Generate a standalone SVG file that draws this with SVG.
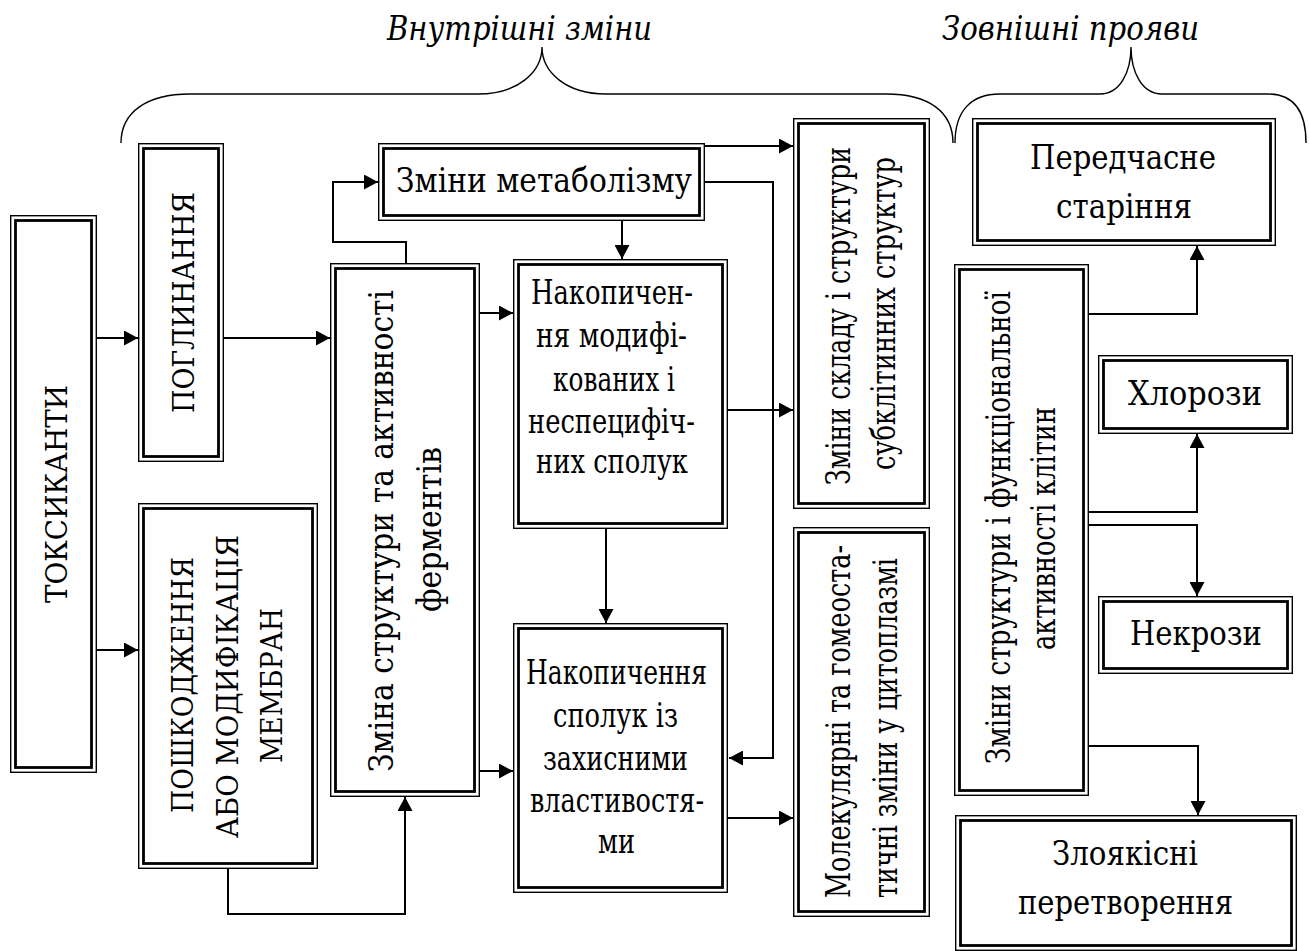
<svg xmlns="http://www.w3.org/2000/svg" width="1309" height="951" viewBox="0 0 1309 951">
  <defs>
    <marker id="arr" markerUnits="userSpaceOnUse" markerWidth="14" markerHeight="15" refX="14" refY="7.5" orient="auto">
      <path d="M0,0 L14,7.5 L0,15 Z" fill="#000"/>
    </marker>
    <style>
      text { font-family: "DejaVu Serif", "Liberation Serif", serif; fill: #000; }
      .o { fill: #fff; stroke: #000; stroke-width: 1.4; }
      .i { fill: none; stroke: #000; stroke-width: 2.8; }
      .t { font-size: 33.5px; text-anchor: middle; }
      .u { font-size: 30px; }
      .s { text-anchor: start; }
      .h { font-size: 34px; font-style: italic; text-anchor: middle; }
      .c { fill: none; stroke: #000; stroke-width: 2; marker-end: url(#arr); }
      .b { fill: none; stroke: #000; stroke-width: 1.4; }
    </style>
  </defs>
  <rect width="1309" height="951" fill="#fff"/>

  <!-- group headings with braces -->
  <g id="headings">
    <text class="h" x="519.5" y="40" textLength="265" lengthAdjust="spacingAndGlyphs">Внутрішні зміни</text>
    <text class="h" x="1070.5" y="40" textLength="257" lengthAdjust="spacingAndGlyphs">Зовнішні прояви</text>
    <path class="b" d="M121,143 C121,112 147,94 190,94 L478,94 C518,94 542,72 542,47 C542,72 566,94 606,94 L886,94 C929,94 953,112 953,143"/>
    <path class="b" d="M955,143 C955,112 970,94 1000,94 L1100,94 C1120,94 1131,72 1131,47 C1131,72 1142,94 1162,94 L1268,94 C1294,94 1306,112 1306,143"/>
  </g>

  <!-- connectors -->
  <g id="connectors">
    <path class="c" d="M97,338 H138"/>
    <path class="c" d="M97,650 H138"/>
    <path class="c" d="M224,338 H330"/>
    <path class="c" d="M228,869 V914 H405 V797"/>
    <path class="c" d="M406,263 V242 H333 V182 H378"/>
    <path class="c" d="M480,313 H513"/>
    <path class="c" d="M480,771 H513"/>
    <path class="c" d="M622,221 V259"/>
    <path class="c" d="M705,146 H793"/>
    <path class="c" d="M705,182 H773 V758 H729"/>
    <path class="c" d="M728,410 H793"/>
    <path class="c" d="M606,529 V623"/>
    <path class="c" d="M728,818 H793"/>
    <path class="c" d="M1089,314 H1197 V246"/>
    <path class="c" d="M1089,512 H1197 V434"/>
    <path class="c" d="M1089,525 H1197 V596"/>
    <path class="c" d="M1089,746 H1198 V815"/>
  </g>

  <g id="toxicants">
    <rect class="o" x="10.7" y="215.7" width="85.6" height="556.6"/>
    <rect class="i" x="15.5" y="220.5" width="76" height="547"/>
    <text class="t u" transform="translate(67,494) rotate(-90)" textLength="218" lengthAdjust="spacingAndGlyphs">ТОКСИКАНТИ</text>
  </g>

  <g id="uptake">
    <rect class="o" x="138.7" y="143.7" width="84.6" height="317.6"/>
    <rect class="i" x="143.5" y="148.5" width="75" height="308"/>
    <text class="t u" transform="translate(194,302.5) rotate(-90)" textLength="221" lengthAdjust="spacingAndGlyphs">ПОГЛИНАННЯ</text>
  </g>

  <g id="membranes">
    <rect class="o" x="138.7" y="503.7" width="178.6" height="364.6"/>
    <rect class="i" x="143.5" y="508.5" width="169" height="355"/>
    <text class="t u" transform="translate(193,685) rotate(-90)" textLength="256" lengthAdjust="spacingAndGlyphs">ПОШКОДЖЕННЯ</text>
    <text class="t u" transform="translate(238,686.5) rotate(-90)" textLength="303" lengthAdjust="spacingAndGlyphs">АБО МОДИФІКАЦІЯ</text>
    <text class="t u" transform="translate(282,685.5) rotate(-90)" textLength="155" lengthAdjust="spacingAndGlyphs">МЕМБРАН</text>
  </g>

  <g id="enzymes">
    <rect class="o" x="330.7" y="263.7" width="148.6" height="532.6"/>
    <rect class="i" x="335.5" y="268.5" width="139" height="523"/>
    <text class="t" transform="translate(393,531) rotate(-90)" textLength="482" lengthAdjust="spacingAndGlyphs">Зміна структури та активності</text>
    <text class="t" transform="translate(441,529.5) rotate(-90)" textLength="165" lengthAdjust="spacingAndGlyphs">ферментів</text>
  </g>

  <g id="metabolism">
    <rect class="o" x="378.7" y="143.7" width="325.6" height="76.6"/>
    <rect class="i" x="383.5" y="148.5" width="316" height="67"/>
    <text class="t" x="544" y="192" textLength="296" lengthAdjust="spacingAndGlyphs">Зміни метаболізму</text>
  </g>

  <g id="modified-compounds">
    <rect class="o" x="513.7" y="259.7" width="213.6" height="268.6"/>
    <rect class="i" x="518.5" y="264.5" width="204" height="259"/>
    <text class="t" x="612" y="304" textLength="162" lengthAdjust="spacingAndGlyphs">Накопичен-</text>
    <text class="t" x="611.5" y="347" textLength="151" lengthAdjust="spacingAndGlyphs">ня модифі-</text>
    <text class="t" x="614" y="391" textLength="122" lengthAdjust="spacingAndGlyphs">кованих і</text>
    <text class="t" x="611.5" y="433" textLength="167" lengthAdjust="spacingAndGlyphs">неспецифіч-</text>
    <text class="t" x="612" y="473" textLength="152" lengthAdjust="spacingAndGlyphs">них сполук</text>
  </g>

  <g id="protective-compounds">
    <rect class="o" x="513.7" y="623.7" width="213.6" height="268.6"/>
    <rect class="i" x="518.5" y="628.5" width="204" height="259"/>
    <text class="t" x="616.5" y="684" textLength="181" lengthAdjust="spacingAndGlyphs">Накопичення</text>
    <text class="t" x="615.5" y="727" textLength="125" lengthAdjust="spacingAndGlyphs">сполук із</text>
    <text class="t" x="615.5" y="770" textLength="145" lengthAdjust="spacingAndGlyphs">захисними</text>
    <text class="t" x="617" y="812" textLength="174" lengthAdjust="spacingAndGlyphs">властивостя-</text>
    <text class="t" x="616.5" y="853" textLength="37" lengthAdjust="spacingAndGlyphs">ми</text>
  </g>

  <g id="subcellular">
    <rect class="o" x="793.7" y="118.7" width="135.6" height="389.6"/>
    <rect class="i" x="798.5" y="123.5" width="126" height="380"/>
    <text class="t" transform="translate(850,316) rotate(-90)" textLength="338" lengthAdjust="spacingAndGlyphs">Зміни складу і структури</text>
    <text class="t" transform="translate(895,313.5) rotate(-90)" textLength="313" lengthAdjust="spacingAndGlyphs">субклітинних структур</text>
  </g>

  <g id="cytoplasm">
    <rect class="o" x="793.7" y="527.7" width="135.6" height="388.6"/>
    <rect class="i" x="798.5" y="532.5" width="126" height="379"/>
    <text class="t s" transform="translate(850,898) rotate(-90)" textLength="353" lengthAdjust="spacingAndGlyphs">Молекулярні та гомеоста-</text>
    <text class="t s" transform="translate(897,898) rotate(-90)" textLength="340" lengthAdjust="spacingAndGlyphs">тичні зміни у цитоплазмі</text>
  </g>

  <g id="cell-activity">
    <rect class="o" x="954.7" y="264.7" width="133.6" height="530.6"/>
    <rect class="i" x="959.5" y="269.5" width="124" height="521"/>
    <text class="t" transform="translate(1010,527.5) rotate(-90)" textLength="473" lengthAdjust="spacingAndGlyphs">Зміни структури і функціональної</text>
    <text class="t" transform="translate(1055,528.5) rotate(-90)" textLength="243" lengthAdjust="spacingAndGlyphs">активності клітин</text>
  </g>

  <g id="aging">
    <rect class="o" x="972.7" y="118.7" width="302.6" height="126.6"/>
    <rect class="i" x="977.5" y="123.5" width="293" height="117"/>
    <text class="t" x="1123" y="169" textLength="186" lengthAdjust="spacingAndGlyphs">Передчасне</text>
    <text class="t" x="1124" y="218" textLength="136" lengthAdjust="spacingAndGlyphs">старіння</text>
  </g>

  <g id="chlorosis">
    <rect class="o" x="1098.7" y="355.7" width="193.6" height="77.6"/>
    <rect class="i" x="1103.5" y="360.5" width="184" height="68"/>
    <text class="t" x="1195" y="405" textLength="134" lengthAdjust="spacingAndGlyphs">Хлорози</text>
  </g>

  <g id="necrosis">
    <rect class="o" x="1098.7" y="596.7" width="193.6" height="76.6"/>
    <rect class="i" x="1103.5" y="601.5" width="184" height="67"/>
    <text class="t" x="1196" y="645" textLength="132" lengthAdjust="spacingAndGlyphs">Некрози</text>
  </g>

  <g id="malignant">
    <rect class="o" x="955.7" y="815.7" width="340.6" height="134.6"/>
    <rect class="i" x="960.5" y="820.5" width="331" height="125"/>
    <text class="t" x="1125" y="865" textLength="146" lengthAdjust="spacingAndGlyphs">Злоякісні</text>
    <text class="t" x="1125.5" y="914" textLength="215" lengthAdjust="spacingAndGlyphs">перетворення</text>
  </g>
</svg>
